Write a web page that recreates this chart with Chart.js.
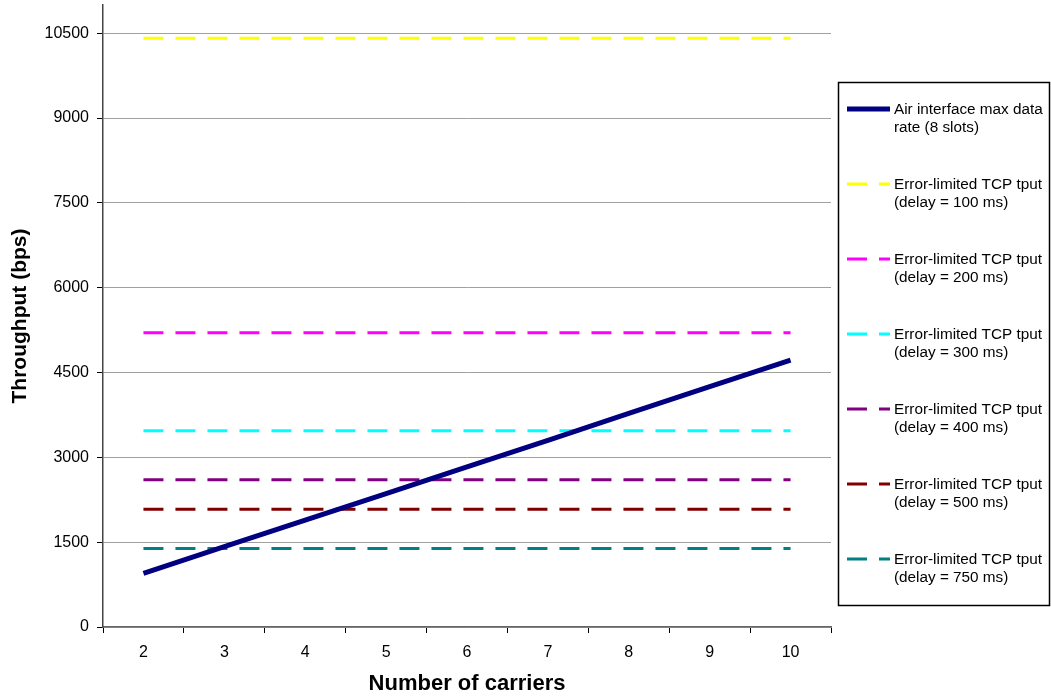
<!DOCTYPE html>
<html>
<head>
<meta charset="utf-8">
<script src="https://cdn.jsdelivr.net/npm/chart.js@4.4.0/dist/chart.umd.min.js"></script>
<style>
  html, body { margin: 0; padding: 0; background: #fff; }
  #wrap { width: 1051px; height: 697px; position: relative; }
</style>
</head>
<body>
<div id="wrap"><canvas id="myChart" width="1051" height="697"></canvas></div>
<script>
// carriers on the x axis
const carriers = ['2', '3', '4', '5', '6', '7', '8', '9', '10'];
// air interface max data rate (8 slots)
const airRate = [950, 1420, 1890, 2360, 2830, 3300, 3780, 4250, 4720];
// error-limited TCP throughput, one flat level per delay
const tput100 = [10410, 10410, 10410, 10410, 10410, 10410, 10410, 10410, 10410];
const tput200 = [5205, 5205, 5205, 5205, 5205, 5205, 5205, 5205, 5205];
const tput300 = [3470, 3470, 3470, 3470, 3470, 3470, 3470, 3470, 3470];
const tput400 = [2603, 2603, 2603, 2603, 2603, 2603, 2603, 2603, 2603];
const tput500 = [2082, 2082, 2082, 2082, 2082, 2082, 2082, 2082, 2082];
const tput750 = [1388, 1388, 1388, 1388, 1388, 1388, 1388, 1388, 1388];
const yTicks = [0, 1500, 3000, 4500, 6000, 7500, 9000, 10500];

const legendText = [
  ['Air interface max data', 'rate (8 slots)'],
  ['Error-limited TCP tput', '(delay = 100 ms)'],
  ['Error-limited TCP tput', '(delay = 200 ms)'],
  ['Error-limited TCP tput', '(delay = 300 ms)'],
  ['Error-limited TCP tput', '(delay = 400 ms)'],
  ['Error-limited TCP tput', '(delay = 500 ms)'],
  ['Error-limited TCP tput', '(delay = 750 ms)']
];

function dashed(label, data, color) {
  return {
    label: label, data: data, borderColor: color, backgroundColor: color,
    borderWidth: 3, borderDash: [20, 12], pointRadius: 0, fill: false
  };
}

// draw the boxed legend on the right, Excel style
const boxLegend = {
  id: 'boxLegend',
  afterDraw(chart) {
    const ctx = chart.ctx;
    ctx.save();
    ctx.strokeStyle = '#000';
    ctx.lineWidth = 1.5;
    ctx.strokeRect(838.5, 82.5, 211, 523);
    ctx.font = '15.3px Arial, "Liberation Sans", sans-serif';
    ctx.fillStyle = '#000';
    ctx.textBaseline = 'middle';
    chart.data.datasets.forEach(function(ds, i) {
      const y = 109 + i * 75;
      ctx.strokeStyle = ds.borderColor;
      ctx.lineWidth = ds.borderWidth;
      ctx.setLineDash(ds.borderDash || []);
      ctx.beginPath();
      ctx.moveTo(847, y);
      ctx.lineTo(890, y);
      ctx.stroke();
      ctx.setLineDash([]);
      ctx.fillText(legendText[i][0], 894, y + 1);
      ctx.fillText(legendText[i][1], 894, y + 19);
    });
    ctx.restore();
  }
};

var ctx = document.getElementById('myChart').getContext('2d');
var myChart = new Chart(ctx, {
  type: 'line',
  data: {
    labels: carriers,
    datasets: [
      {
        label: 'Air interface max data rate (8 slots)', data: airRate,
        borderColor: '#000080', backgroundColor: '#000080',
        borderWidth: 5, pointRadius: 0, fill: false
      },
      dashed('Error-limited TCP tput (delay = 100 ms)', tput100, '#FFFF00'),
      dashed('Error-limited TCP tput (delay = 200 ms)', tput200, '#FF00FF'),
      dashed('Error-limited TCP tput (delay = 300 ms)', tput300, '#00FFFF'),
      dashed('Error-limited TCP tput (delay = 400 ms)', tput400, '#800080'),
      dashed('Error-limited TCP tput (delay = 500 ms)', tput500, '#800000'),
      dashed('Error-limited TCP tput (delay = 750 ms)', tput750, '#008080')
    ]
  },
  options: {
    responsive: false,
    animation: false,
    layout: { padding: { top: 5, right: 220, bottom: 0, left: 0 } },
    plugins: { legend: { display: false }, tooltip: { enabled: false } },
    scales: {
      x: {
        offset: true,
        grid: { offset: true, drawOnChartArea: false, drawTicks: true, tickLength: 6, tickColor: '#000' },
        border: { display: true, color: '#666', width: 1.5 },
        ticks: { color: '#000', font: { family: 'Arial', size: 16 }, padding: 10 },
        title: { display: true, text: 'Number of carriers', color: '#000',
                 font: { family: 'Arial', size: 22, weight: 'bold' }, padding: { top: 4, bottom: 0 } },
        afterFit(scale) { scale.height = 70; }
      },
      y: {
        min: 0, max: 11000,
        afterBuildTicks(scale) { scale.ticks = yTicks.map(v => ({ value: v })); },
        grid: { color: '#a0a0a0', lineWidth: 1, tickLength: 6, tickColor: '#000' },
        border: { display: true, color: '#444', width: 1.5 },
        ticks: { color: '#000', font: { family: 'Arial', size: 16 }, padding: 8,
                 callback: v => String(v) },
        title: { display: true, text: 'Throughput (bps)', color: '#000',
                 font: { family: 'Arial', size: 21, weight: 'bold' }, padding: { top: 8, bottom: 0 } },
        afterFit(scale) { scale.width = 103; scale.paddingTop = 0; scale.paddingBottom = 0; }
      }
    }
  },
  plugins: [boxLegend]
});
</script>
</body>
</html>
